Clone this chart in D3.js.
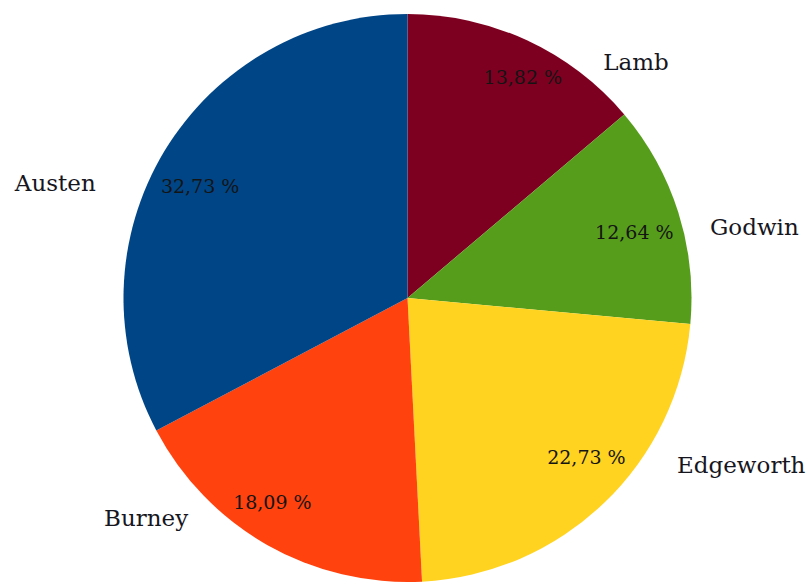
<!DOCTYPE html>
<html><head><meta charset="utf-8">
<script src="https://cdn.jsdelivr.net/npm/d3@7"></script>
<style>html,body{margin:0;padding:0;background:#fff;}svg{display:block;}</style>
</head><body>
<svg id="chart" width="811" height="585"></svg>
<script>
// Data (clockwise from 12 o'clock as drawn)
const categories = ["Lamb", "Godwin", "Edgeworth", "Burney", "Austen"];
const shares = [13.82, 12.64, 22.73, 18.09, 32.73];
const valueLabels = ["13,82 %", "12,64 %", "22,73 %", "18,09 %", "32,73 %"];

// Styling / layout (kept separate from data)
const colors = ["#7e0021", "#579d1c", "#ffd320", "#ff420e", "#004586"];
const catNudge = [[109, 22], [76, 14], [137, -38], [-121, -27], [-109, 32]];
const valNudge = [[14, -2], [-3, 7], [12, -14], [-16, -5], [-1, 13]];

const W = 811, H = 585, cx = 407.5, cy = 298, R = 284;
const svg = d3.select("#chart");
const g = svg.append("g").attr("transform", `translate(${cx},${cy})`);

const data = categories.map((c, i) => ({ cat: c, v: shares[i], lab: valueLabels[i], i }));
const pie = d3.pie().sort(null).value(d => d.v);
const arcs = pie(data);
const arc = d3.arc().innerRadius(0).outerRadius(R);

g.selectAll("path.slice").data(arcs).join("path")
  .attr("class", "slice")
  .attr("d", arc)
  .attr("fill", d => colors[d.data.i]);

const polar = (a, r) => [r * Math.sin(a), -r * Math.cos(a)];

g.selectAll("text.val").data(arcs).join("text")
  .attr("class", "val")
  .attr("x", d => polar((d.startAngle + d.endAngle) / 2, 241)[0] + valNudge[d.data.i][0])
  .attr("y", d => polar((d.startAngle + d.endAngle) / 2, 241)[1] + valNudge[d.data.i][1])
  .attr("dy", "0.35em")
  .attr("text-anchor", "middle")
  .attr("font-family", "DejaVu Serif, serif")
  .attr("font-size", 19)
  .attr("fill", "#141414")
  .text(d => d.data.lab);

g.selectAll("text.cat").data(arcs).join("text")
  .attr("class", "cat")
  .attr("x", d => polar((d.startAngle + d.endAngle) / 2, R)[0] + catNudge[d.data.i][0])
  .attr("y", d => polar((d.startAngle + d.endAngle) / 2, R)[1] + catNudge[d.data.i][1])
  .attr("dy", "0.35em")
  .attr("text-anchor", "middle")
  .attr("font-family", "DejaVu Serif, serif")
  .attr("font-size", 23)
  .attr("fill", "#16161e")
  .text(d => d.data.cat);
</script>
</body></html>
